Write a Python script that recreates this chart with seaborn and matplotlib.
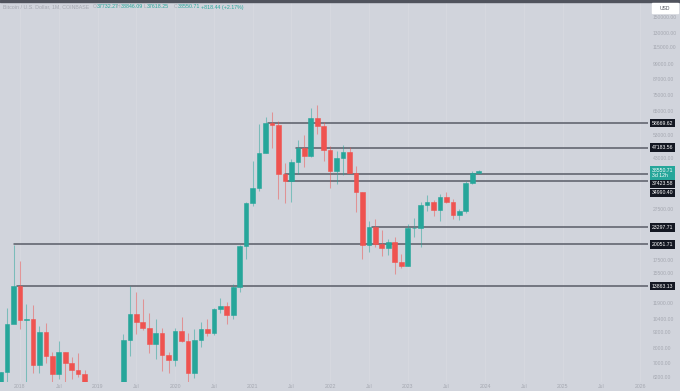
import matplotlib
matplotlib.use('Agg')
import matplotlib.pyplot as plt
import seaborn as sns
import numpy as np
import pandas as pd
from matplotlib.patches import Rectangle
from matplotlib.ticker import FixedLocator, FixedFormatter, NullLocator

# monthly BTC/USD candles, Oct 2017 .. Dec 2023 (Coinbase)
opens = [4338, 6457, 9947,
         13863, 10285, 10326, 6923, 9245, 7495, 6390, 7730, 7025, 6625, 6370, 4040,
         3740, 3457, 3854, 4105, 5320, 8574, 10817, 10085, 9594, 8290, 9150, 7545,
         7195, 9350, 8543, 6410, 8630, 9450, 9140, 11340, 11650, 10780, 13800, 19700,
         28990, 33115, 45160, 58780, 57720, 37300, 35040, 41460, 47130, 43830, 61300, 57000,
         46220, 38470, 43180, 45530, 37640, 31800, 19940, 23300, 20050, 19430, 20490, 17170,
         16540, 23130, 23140, 28470, 29250, 27210, 30470, 29230, 25940, 26960, 34640, 37732]
highs = [6470, 11400, 19892,
         17252, 11786, 11710, 9769, 9991, 7760, 8507, 7760, 7410, 7680, 6600, 4310,
         4070, 4200, 4150, 5600, 9090, 13880, 13200, 12330, 10950, 10370, 9530, 7750,
         9580, 10500, 9190, 9460, 10080, 10400, 11440, 12480, 12080, 14100, 19900, 29300,
         41990, 58350, 61780, 64900, 59600, 41330, 42600, 50500, 52920, 67000, 69000, 59100,
         47990, 45850, 48240, 47450, 40000, 31980, 24670, 25200, 22800, 21100, 21480, 18400,
         23960, 25250, 29190, 31000, 29820, 31400, 31800, 30050, 27480, 35000, 38450, 38846]
lows = [4110, 5500, 10800,
        9500, 5920, 6430, 6425, 7034, 5780, 6070, 5880, 6100, 6200, 3550, 3130,
        3390, 3400, 3700, 4075, 5330, 7450, 9100, 9360, 7700, 7300, 6520, 6430,
        6850, 8450, 3850, 6150, 8100, 8900, 8970, 10950, 9880, 10400, 13200, 17570,
        28130, 32300, 44950, 47000, 30000, 28800, 29280, 37330, 39600, 43300, 53250, 42000,
        32950, 34320, 37150, 37700, 26700, 17600, 18780, 19550, 18150, 18200, 15480, 16250,
        16500, 21350, 19570, 26940, 25810, 24750, 28860, 25170, 24900, 26550, 34100, 37618]
closes = [6457, 9947, 13863,
          10285, 10326, 6923, 9245, 7495, 6390, 7730, 7025, 6625, 6370, 4040, 3740,
          3457, 3854, 4105, 5320, 8574, 10817, 10085, 9594, 8290, 9150, 7545, 7195,
          9350, 8543, 6410, 8630, 9450, 9140, 11340, 11650, 10780, 13800, 19700, 28990,
          33115, 45160, 58780, 57720, 37300, 35040, 41460, 47130, 43830, 61300, 57000, 46220,
          38470, 43180, 45530, 37640, 31800, 19940, 23300, 20050, 19430, 20490, 17170, 16540,
          23130, 23140, 28470, 29250, 27210, 30470, 29230, 25940, 26960, 34640, 37732, 38551]

# horizontal rays drawn on the chart (price, bar index where the ray starts)
level_prices = [58669.62, 47183.56, 37423.58, 34990.40, 23297.71, 20051.71, 13863.13]
level_starts = [41.4, 45.7, 44.0, 44.4, 57.5, 2.0, 2.5]

price_ticks = [150000, 130000, 115000, 99000, 87000, 75000, 65000, 53000, 43000,
               27500, 17500, 15500, 11900, 10400, 9200, 8000, 7000, 6200]
time_ticks = [3, 9, 15, 21, 27, 33, 39, 45, 51, 57, 63, 69, 75, 81, 87, 93, 99]
time_labels = ['2018', 'Jul', '2019', 'Jul', '2020', 'Jul', '2021', 'Jul', '2022',
               'Jul', '2023', 'Jul', '2024', 'Jul', '2025', 'Jul', '2026']

BG = '#d1d4dc'
UP = '#26a69a'
DOWN = '#ef5350'
LINE = '#5a5d67'
MUTED = '#a5a8b1'

sns.set_theme(style='white')
plt.rcParams['font.family'] = ['Liberation Sans', 'DejaVu Sans']

df = pd.DataFrame({'open': opens, 'high': highs, 'low': lows, 'close': closes})
df['bar'] = np.arange(len(df))
df['color'] = np.where(df['close'] >= df['open'], UP, DOWN)

W, H = 680, 391
fig = plt.figure(figsize=(W / 100, H / 100), dpi=100)
fig.patch.set_facecolor(BG)
ax = fig.add_axes([0, 9 / H, 648 / W, 380 / H])
ax.set_facecolor(BG)

ax.set_yscale('log')
ax.set_xlim(-0.1, 100.2)
ax.set_ylim(5932, 171300)

# faint vertical grid
for t in time_ticks:
    ax.axvline(t, color='#d7d9e0', lw=0.6, zorder=0)

# horizontal rays via seaborn
rays = pd.DataFrame({
    'x': [v for s in level_starts for v in (s, 100.2)],
    'y': [v for p in level_prices for v in (p, p)],
    'level': [i for i in range(len(level_prices)) for _ in (0, 1)],
})
sns.lineplot(data=rays, x='x', y='y', units='level', estimator=None, sort=False,
             color=LINE, lw=1.1, ax=ax, zorder=2)

# candles
ax.vlines(df['bar'], df['low'], df['high'], colors=df['color'], lw=0.75, alpha=0.5, zorder=3)
body_lo = np.minimum(df['open'], df['close'])
body_h = np.abs(df['close'] - df['open'])
ax.bar(df['bar'], body_h, bottom=body_lo, width=0.72, color=df['color'],
       edgecolor=df['color'], linewidth=0.4, zorder=4)

ax.set_xlabel('')
ax.set_ylabel('')
for sp in ax.spines.values():
    sp.set_visible(False)

ax.yaxis.tick_right()
ax.yaxis.set_major_locator(FixedLocator(price_ticks))
ax.yaxis.set_major_formatter(FixedFormatter(['%.2f' % p for p in price_ticks]))
ax.yaxis.set_minor_locator(NullLocator())
ax.tick_params(axis='y', length=0, pad=3.6, labelsize=3.6, labelcolor=MUTED)
ax.xaxis.set_major_locator(FixedLocator(time_ticks))
ax.xaxis.set_major_formatter(FixedFormatter(time_labels))
ax.tick_params(axis='x', length=0, pad=1.6, labelsize=3.7, labelcolor=MUTED)

# price labels on the right scale
box_offsets = {58669.62: 0, 47183.56: 0, 37423.58: -10, 34990.40: -11.5,
               23297.71: 0, 20051.71: 0, 13863.13: 0}
for p in level_prices:
    ax.annotate('%.2f' % p, xy=(1, p), xycoords=('axes fraction', 'data'),
                xytext=(4, box_offsets[p]), textcoords='offset pixels',
                ha='left', va='center', fontsize=3.7, color='white',
                bbox=dict(boxstyle='square,pad=0.35', fc='#131722', ec='none'),
                annotation_clip=False, zorder=6)
ax.annotate('38550.71\n3d 12h', xy=(1, 38550.71), xycoords=('axes fraction', 'data'),
            xytext=(4, -2.5), textcoords='offset pixels', ha='left', va='center',
            fontsize=3.7, color='white', linespacing=1.2,
            bbox=dict(boxstyle='square,pad=0.35', fc=UP, ec='none'),
            annotation_clip=False, zorder=7)

# header
def fx(px):
    return px / W

def fy(py):
    return 1 - py / H

fig.text(fx(3), fy(7), 'Bitcoin / U.S. Dollar, 1M, COINBASE', fontsize=3.8,
         color=MUTED, va='center')
for letter, lx, val, vx in [('O', 92.5, '37732.27', 96.5), ('H', 117, '38846.09', 121),
                            ('L', 143.5, '37618.25', 147), ('C', 174, '38550.71', 178)]:
    fig.text(fx(lx), fy(7), letter, fontsize=3.6, color=MUTED, va='center')
    fig.text(fx(vx), fy(7), val, fontsize=3.8, color=UP, va='center')
fig.text(fx(201), fy(7), '+818.44 (+2.17%)', fontsize=3.8, color=UP, va='center')

# top border and currency badge
fig.patches.append(Rectangle((0, fy(1.5)), 1, 1.5 / H, transform=fig.transFigure,
                             color='#50535d', zorder=10))
fig.patches.append(Rectangle((fx(652), fy(13)), 26 / W, 10 / H, transform=fig.transFigure,
                             color='white', zorder=10))
fig.text(fx(660), fy(8), 'USD', fontsize=3.6, color='#50535d', va='center', zorder=11)

fig.savefig('out.png', dpi=100, facecolor=BG)
